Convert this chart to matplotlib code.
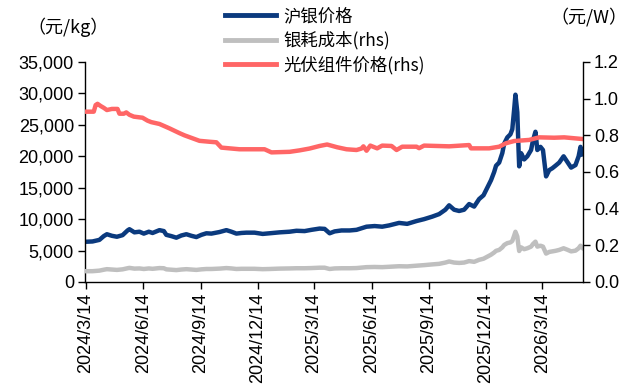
import matplotlib
matplotlib.use("Agg")
import matplotlib.pyplot as plt
from matplotlib.ticker import FuncFormatter, MultipleLocator
import pandas as pd

plt.rcParams['font.family'] = ['Liberation Sans', 'Noto Sans CJK SC', 'DejaVu Sans']

# Shanghai silver price (yuan/kg) and silver-paste cost per watt (yuan/W)
silver_dates = [
    "2024-03-14", "2024-03-25", "2024-04-05", "2024-04-12", "2024-04-17", "2024-04-25",
    "2024-05-03", "2024-05-12", "2024-05-20", "2024-05-23", "2024-05-31", "2024-06-08",
    "2024-06-15", "2024-06-23", "2024-06-29", "2024-07-10", "2024-07-17", "2024-07-21",
    "2024-07-29", "2024-08-06", "2024-08-14", "2024-08-22", "2024-08-30", "2024-09-07",
    "2024-09-15", "2024-09-23", "2024-10-01", "2024-10-14", "2024-10-25", "2024-11-02",
    "2024-11-10", "2024-11-18", "2024-11-26", "2024-12-09", "2024-12-22", "2025-01-02",
    "2025-01-18", "2025-02-03", "2025-02-14", "2025-02-27", "2025-03-10", "2025-03-23",
    "2025-03-31", "2025-04-08", "2025-04-16", "2025-04-27", "2025-05-10", "2025-05-21",
    "2025-06-06", "2025-06-19", "2025-07-01", "2025-07-12", "2025-07-28", "2025-08-10",
    "2025-08-25", "2025-09-06", "2025-09-19", "2025-09-30", "2025-10-10", "2025-10-16",
    "2025-10-24", "2025-11-01", "2025-11-09", "2025-11-17", "2025-11-25", "2025-12-03",
    "2025-12-10", "2025-12-16", "2025-12-22", "2025-12-27", "2025-12-30", "2026-01-04",
    "2026-01-09", "2026-01-12", "2026-01-17", "2026-01-22", "2026-01-25", "2026-01-28",
    "2026-01-30", "2026-02-02", "2026-02-04", "2026-02-05", "2026-02-08", "2026-02-13",
    "2026-02-18", "2026-02-24", "2026-02-27", "2026-03-03", "2026-03-06", "2026-03-11",
    "2026-03-15", "2026-03-20", "2026-03-25", "2026-03-30", "2026-04-04", "2026-04-10",
    "2026-04-17", "2026-04-23", "2026-04-29", "2026-05-06", "2026-05-11", "2026-05-14",
    "2026-05-17",
]
silver_price = [
    6400, 6450, 6700, 7300, 7600, 7350,
    7200, 7450, 8200, 8400, 7900, 8000,
    7700, 8000, 7800, 8250, 8100, 7500,
    7300, 7050, 7400, 7600, 7350, 7150,
    7500, 7750, 7700, 7950, 8250, 8000,
    7700, 7800, 7850, 7850, 7650, 7750,
    7900, 8000, 8150, 8100, 8300, 8500,
    8450, 7750, 8050, 8200, 8200, 8300,
    8800, 8900, 8800, 9000, 9400, 9250,
    9700, 10000, 10400, 10800, 11500, 12200,
    11500, 11300, 11500, 12400, 12000, 13200,
    13800, 15000, 16200, 17500, 18500, 19000,
    20500, 22000, 23000, 23500, 24300, 27500,
    29800, 27000, 21000, 18400, 20500, 19500,
    20000, 21000, 22500, 23900, 21000, 21500,
    21000, 16800, 17800, 18100, 18500, 19000,
    20000, 19100, 18200, 18600, 20000, 21500,
    20300,
]
silver_cost = [
    0.059, 0.059, 0.062, 0.067, 0.070, 0.068,
    0.066, 0.069, 0.075, 0.077, 0.073, 0.074,
    0.071, 0.074, 0.072, 0.076, 0.075, 0.069,
    0.067, 0.065, 0.068, 0.070, 0.068, 0.066,
    0.069, 0.071, 0.071, 0.073, 0.076, 0.074,
    0.071, 0.072, 0.072, 0.072, 0.070, 0.071,
    0.073, 0.074, 0.075, 0.075, 0.076, 0.078,
    0.078, 0.071, 0.074, 0.075, 0.075, 0.076,
    0.081, 0.082, 0.081, 0.083, 0.086, 0.085,
    0.089, 0.092, 0.096, 0.099, 0.106, 0.112,
    0.106, 0.104, 0.106, 0.114, 0.110, 0.121,
    0.127, 0.138, 0.149, 0.161, 0.170, 0.175,
    0.189, 0.202, 0.212, 0.216, 0.224, 0.253,
    0.274, 0.248, 0.193, 0.169, 0.189, 0.179,
    0.184, 0.193, 0.207, 0.220, 0.193, 0.198,
    0.193, 0.155, 0.164, 0.167, 0.170, 0.175,
    0.184, 0.176, 0.167, 0.171, 0.184, 0.198,
    0.187,
]

# PV module price (yuan/W)
module_dates = [
    "2024-03-14", "2024-03-27", "2024-03-30", "2024-04-02", "2024-04-07", "2024-04-12",
    "2024-04-17", "2024-04-25", "2024-05-04", "2024-05-07", "2024-05-14", "2024-05-18",
    "2024-05-23", "2024-05-30", "2024-06-13", "2024-06-21", "2024-06-27", "2024-07-10",
    "2024-07-18", "2024-07-26", "2024-08-03", "2024-08-11", "2024-08-19", "2024-08-27",
    "2024-09-12", "2024-09-28", "2024-10-09", "2024-10-17", "2024-11-15", "2024-12-25",
    "2025-01-05", "2025-02-03", "2025-02-19", "2025-03-07", "2025-03-23", "2025-04-04",
    "2025-04-20", "2025-05-05", "2025-05-21", "2025-05-29", "2025-06-01", "2025-06-06",
    "2025-06-12", "2025-06-23", "2025-07-01", "2025-07-16", "2025-07-24", "2025-08-02",
    "2025-08-25", "2025-08-29", "2025-09-06", "2025-10-16", "2025-11-17", "2025-11-20",
    "2025-12-19", "2026-01-04", "2026-01-15", "2026-01-28", "2026-02-21", "2026-03-09",
    "2026-04-02", "2026-04-18", "2026-05-04", "2026-05-17",
]
module_price = [
    0.929, 0.929, 0.965, 0.972, 0.960, 0.950,
    0.938, 0.944, 0.944, 0.918, 0.918, 0.925,
    0.912, 0.902, 0.896, 0.880, 0.872, 0.862,
    0.850, 0.838, 0.825, 0.812, 0.800, 0.790,
    0.770, 0.765, 0.762, 0.733, 0.724, 0.724,
    0.707, 0.710, 0.718, 0.728, 0.742, 0.750,
    0.735, 0.724, 0.720, 0.728, 0.740, 0.716,
    0.744, 0.729, 0.744, 0.742, 0.720, 0.738,
    0.738, 0.730, 0.744, 0.740, 0.747, 0.729,
    0.729, 0.738, 0.757, 0.769, 0.775, 0.789,
    0.787, 0.789, 0.784, 0.780,
]

tick_dates = ["2024-03-14", "2024-06-14", "2024-09-14", "2024-12-14", "2025-03-14",
              "2025-06-14", "2025-09-14", "2025-12-14", "2026-03-14"]
tick_labels = ["2024/3/14", "2024/6/14", "2024/9/14", "2024/12/14", "2025/3/14",
               "2025/6/14", "2025/9/14", "2025/12/14", "2026/3/14"]

series_names = ["沪银价格", "银耗成本(rhs)", "光伏组件价格(rhs)"]
colors = ["#0b3a7e", "#bfbfbf", "#ff6666"]

sd = pd.to_datetime(silver_dates)
md = pd.to_datetime(module_dates)

fig = plt.figure(figsize=(6.28, 3.87), dpi=100)
ax = fig.add_axes([85 / 628, 1 - 282 / 387, (583 - 85) / 628, (282 - 62) / 387])
ax2 = ax.twinx()

l1, = ax.plot(sd, silver_price, color=colors[0], lw=3.2, solid_joinstyle="round")
l2, = ax2.plot(sd, silver_cost, color=colors[1], lw=3.2, solid_joinstyle="round")
l3, = ax2.plot(md, module_price, color=colors[2], lw=3.2, solid_joinstyle="round")

ax.set_xlim(pd.Timestamp("2024-03-13"), pd.Timestamp("2026-05-18"))
ax.set_ylim(0, 35000)
ax2.set_ylim(0, 1.2)
ax.yaxis.set_major_locator(MultipleLocator(5000))
ax.yaxis.set_major_formatter(FuncFormatter(lambda v, p: f"{int(v):,}"))
ax2.yaxis.set_major_locator(MultipleLocator(0.2))
ax2.yaxis.set_major_formatter(FuncFormatter(lambda v, p: f"{v:.1f}"))

ax.set_xticks(pd.to_datetime(tick_dates))
ax.set_xticklabels(tick_labels, rotation=90)

for a in (ax, ax2):
    a.spines["top"].set_visible(False)
    for s in a.spines.values():
        s.set_linewidth(1.0)
        s.set_color("#000000")
    a.tick_params(axis="both", direction="out", length=5, width=1.0,
                  labelsize=13, colors="#000000", pad=3)
ax.spines["right"].set_visible(False)
ax2.spines["left"].set_visible(False)
ax2.spines["bottom"].set_visible(False)

unit_family = ["Noto Sans CJK SC", "Liberation Sans"]
fig.text(27 / 628, 1 - 27 / 387, "（元/kg）", ha="left", va="center", fontsize=13,
         family=unit_family)
fig.text(627 / 628, 1 - 17 / 387, "（元/W）", ha="right", va="center", fontsize=13,
         family=unit_family)

leg = fig.legend([l1, l2, l3], series_names, loc="upper left",
                 bbox_to_anchor=(222 / 628, 1 - 4 / 387), frameon=False,
                 handlelength=2.9, handletextpad=0.45,
                 labelspacing=0.33, borderaxespad=0, borderpad=0.2,
                 prop={"family": unit_family, "size": 12.5})
for h in leg.get_lines():
    h.set_linewidth(3.5)

fig.savefig("out.png", dpi=100)
